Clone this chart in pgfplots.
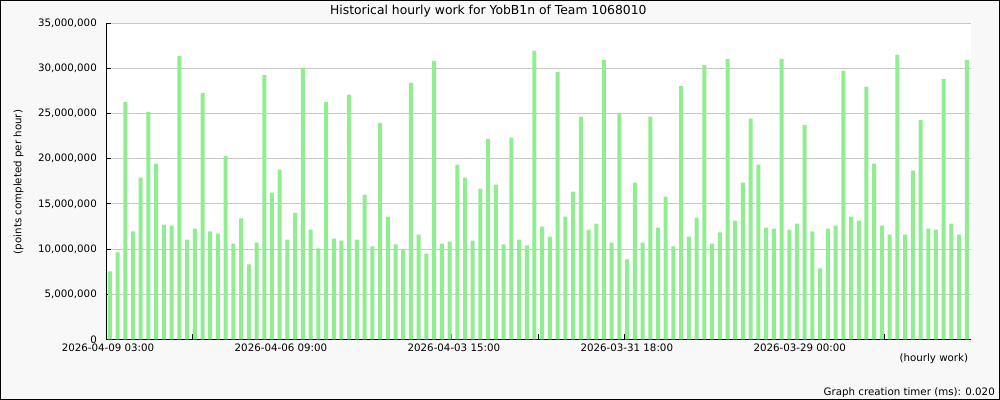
\documentclass[border=0pt]{standalone}
\usepackage{pgfplots}
\pgfplotsset{compat=1.18}
\usepackage{pgfplotstable}
\usepackage{fontspec}
\setmainfont{DejaVu Sans}
\definecolor{bargreen}{HTML}{90EE90}
\definecolor{bggray}{HTML}{F8F8F8}
\definecolor{gridgray}{HTML}{C8C8C8}
\pgfplotstableread{
x y
0 7520000
1 9620000
2 26300000
3 11940000
4 17900000
5 25200000
6 19450000
7 12700000
8 12600000
9 31400000
10 11050000
11 12270000
12 27300000
13 11940000
14 11700000
15 20300000
16 10600000
17 13400000
18 8300000
19 10700000
20 29300000
21 16250000
22 18800000
23 11050000
24 14000000
25 30060000
26 12160000
27 10060000
28 26300000
29 11160000
30 10940000
31 27080000
32 11050000
33 16030000
34 10280000
35 23980000
36 13600000
37 10500000
38 9950000
39 28400000
40 11600000
41 9500000
42 30840000
43 10600000
44 10830000
45 19340000
46 17900000
47 10940000
48 16690000
49 22200000
50 17130000
51 10500000
52 22330000
53 11050000
54 10390000
55 31940000
56 12490000
57 11380000
58 29600000
59 13600000
60 16360000
61 24650000
62 12160000
63 12820000
64 30950000
65 10720000
66 24940000
67 8840000
68 17350000
69 10720000
70 24650000
71 12380000
72 15800000
73 10280000
74 28070000
75 11380000
76 13480000
77 30400000
78 10600000
79 11830000
80 31060000
81 13150000
82 17350000
83 24430000
84 19340000
85 12380000
86 12270000
87 31060000
88 12160000
89 12820000
90 23760000
91 11940000
92 7850000
93 12270000
94 12600000
95 29730000
96 13600000
97 13150000
98 27960000
99 19450000
100 12600000
101 11600000
102 31500000
103 11600000
104 18680000
105 24300000
106 12270000
107 12160000
108 28850000
109 12820000
110 11600000
111 30950000
}\worktable
\begin{document}
\begin{tikzpicture}
\useasboundingbox (0,0) rectangle (1000bp,400bp);
\draw[black, line width=1bp, fill=bggray] (0.5bp,0.5bp) rectangle (999.5bp,399.5bp);
\begin{axis}[
  at={(106bp,60.7bp)}, anchor=south west,
  scale only axis, width=864.7bp, height=316bp,
  axis background/.style={fill=white},
  axis lines*=left,
  axis line style={black, line width=1bp},
  xmin=-0.5, xmax=111.5,
  ymin=0, ymax=35000000,
  ytick={0,5000000,10000000,15000000,20000000,25000000,30000000,35000000},
  scaled y ticks=false,
  /pgf/number format/.cd, fixed, 1000 sep={,}, assume math mode=true,
  /pgfplots/.cd,
  xtick={-0.5,10.7,21.9,33.1,44.3,55.5,66.7,77.9,89.1,100.3},
  xticklabels={2026-04-09 03:00,,2026-04-06 09:00,,2026-04-03 15:00,,2026-03-31 18:00,,2026-03-29 00:00,},
  tick align=inside,
  major tick length=5bp,
  tick style={black, line width=1bp},
  ymajorgrids,
  major grid style={gridgray, line width=1bp},
  ticklabel style={font=\fontsize{10.3}{12}\selectfont},
  yticklabel style={inner sep=0pt, xshift=-9bp},
  xticklabel style={inner sep=0pt, yshift=-4.5bp, xshift=2bp},
]
\addplot[ybar, bar width=4bp, bar shift=0pt, fill=bargreen, draw=none] table[x=x, y=y] {\worktable};
\end{axis}
\node[anchor=base, font=\fontsize{12.4}{14}\selectfont] at (488.3bp,385bp) {Historical hourly work for YobB1n of Team 1068010};
\node[rotate=90, anchor=center, font=\fontsize{10.3}{12}\selectfont] at (18.5bp,218bp) {(points completed per hour)};
\node[anchor=base east, inner sep=0pt, font=\fontsize{10.3}{12}\selectfont] at (968.3bp,38.3bp) {(hourly work)};
\node[anchor=base east, inner sep=0pt, font=\fontsize{10.3}{12}\selectfont] at (995bp,4.5bp) {Graph creation timer (ms): 0.020};
\end{tikzpicture}
\end{document}
